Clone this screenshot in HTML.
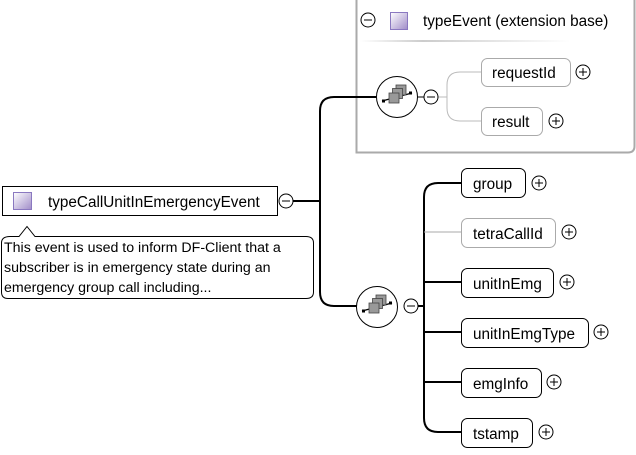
<!DOCTYPE html>
<html><head><style>
html,body{margin:0;padding:0;background:#fff;width:636px;height:455px;overflow:hidden}
svg text{font-family:"Liberation Sans",Arial,sans-serif;font-size:15.3px;fill:#000}
</style></head><body>
<svg width="636" height="455" viewBox="0 0 636 455" xmlns="http://www.w3.org/2000/svg">
<defs>
<linearGradient id="sq" x1="0" y1="0" x2="1" y2="1"><stop offset="0" stop-color="#fff"/><stop offset="1" stop-color="#a08cc8"/></linearGradient>
<linearGradient id="sep" x1="0" x2="1"><stop offset="0" stop-color="#fff"/><stop offset="0.3" stop-color="#ccc"/><stop offset="1" stop-color="#fff"/></linearGradient>
<g id="seq">
<circle r="20.5" fill="#fff" stroke="#000" stroke-width="1"/>
<line x1="-15" y1="4" x2="15" y2="-4" stroke="#000" stroke-width="1.3"/>
<rect x="-15" y="2.5" width="3" height="3" fill="#000"/>
<rect x="12" y="-5.5" width="3" height="3" fill="#000"/>
<rect x="-1" y="-12" width="10" height="10" fill="#999" stroke="#444" stroke-width="0.8"/>
<rect x="-4.5" y="-8.5" width="10" height="10" fill="#999" stroke="#444" stroke-width="0.8"/>
<rect x="-8" y="-4" width="10" height="10" fill="#999" stroke="#444" stroke-width="0.8"/>
</g>
<g id="minus"><circle r="7" fill="#fff" stroke="#000"/><line x1="-4" y1="0" x2="4" y2="0" stroke="#000"/></g>
<g id="plus"><circle r="7" fill="#fff" stroke="#000"/><line x1="-4" y1="0" x2="4" y2="0" stroke="#000"/><line x1="0" y1="-4" x2="0" y2="4" stroke="#000"/></g>
</defs>

<path d="M356.5 0 V152.5 H628 Q634.5 152.5 634.5 146 V0" fill="#fff" stroke="#aaa" stroke-width="2"/>
<use href="#minus" x="368" y="20"/>
<rect x="390.5" y="12.5" width="17" height="17" fill="url(#sq)" stroke="#8a78c0"/>
<text x="423" y="26">typeEvent (extension base)</text>
<rect x="360" y="40" width="210" height="2" fill="url(#sep)"/>

<g fill="none" stroke="#000" stroke-width="2">
<line x1="293" y1="201" x2="320" y2="201"/>
<path d="M376 97 H334 Q320 97 320 111 V292 Q320 306 334 306 H357"/>
<path d="M418 306 H424"/>
<path d="M461 183 H438 Q424 183 424 197 V418 Q424 432 438 432 H461"/>
<line x1="424" y1="282" x2="461" y2="282"/>
<line x1="424" y1="332" x2="461" y2="332"/>
<line x1="424" y1="382" x2="461" y2="382"/>
</g>
<line x1="424" y1="232" x2="461" y2="232" stroke="#aaa" stroke-width="1"/>
<line x1="417" y1="97" x2="424" y2="97" stroke="#000"/>
<path d="M438 97 H447 M481 72 H460 Q447 72 447 85 V108 Q447 121 460 121 H481" fill="none" stroke="#bbb" stroke-width="1"/>

<use href="#seq" x="397" y="97"/>
<use href="#minus" x="431" y="97"/>
<use href="#seq" x="377" y="307"/>
<use href="#minus" x="411" y="306"/>

<rect x="481.5" y="58.5" width="89" height="28" rx="6" fill="#fff" stroke="#aaa"/>
<text x="492" y="78">requestId</text>
<use href="#plus" x="583" y="72"/>
<rect x="481.5" y="107.5" width="61" height="28" rx="6" fill="#fff" stroke="#aaa"/>
<text x="492" y="127">result</text>
<use href="#plus" x="556" y="121"/>

<rect x="2.5" y="186.5" width="275" height="29" fill="#fff" stroke="#000"/>
<rect x="13.5" y="192.5" width="18" height="17" fill="url(#sq)" stroke="#8a78c0"/>
<text x="48" y="207">typeCallUnitInEmergencyEvent</text>
<use href="#minus" x="286" y="201"/>

<path d="M10 236.5 H19 L27 226.5 L35 236.5 H306 Q313.5 236.5 313.5 243 V292 Q313.5 298.5 306 298.5 H8 Q1.5 298.5 1.5 292 V243 Q1.5 236.5 10 236.5 Z" fill="#fff" stroke="#000"/>
<text x="4" y="252" style="font-size:14.2px">This event is used to inform DF-Client that a</text>
<text x="4" y="272" style="font-size:14.2px">subscriber is in emergency state during an</text>
<text x="4" y="292" style="font-size:14.2px">emergency group call including...</text>

<rect x="461.5" y="168.5" width="64" height="29" rx="6" fill="#fff" stroke="#000"/>
<text x="473" y="189">group</text>
<use href="#plus" x="539" y="183"/>
<rect x="461.5" y="218.5" width="94" height="29" rx="6" fill="#fff" stroke="#aaa"/>
<text x="473" y="239">tetraCallId</text>
<use href="#plus" x="569" y="232"/>
<rect x="461.5" y="268.5" width="92" height="29" rx="6" fill="#fff" stroke="#000"/>
<text x="473" y="289">unitInEmg</text>
<use href="#plus" x="567" y="282"/>
<rect x="461.5" y="318.5" width="127" height="29" rx="6" fill="#fff" stroke="#000"/>
<text x="473" y="339">unitInEmgType</text>
<use href="#plus" x="601" y="332"/>
<rect x="461.5" y="368.5" width="80" height="29" rx="6" fill="#fff" stroke="#000"/>
<text x="473" y="389">emgInfo</text>
<use href="#plus" x="554" y="382"/>
<rect x="461.5" y="418.5" width="71" height="29" rx="6" fill="#fff" stroke="#000"/>
<text x="473" y="439">tstamp</text>
<use href="#plus" x="546" y="432"/>
</svg>
</body></html>
